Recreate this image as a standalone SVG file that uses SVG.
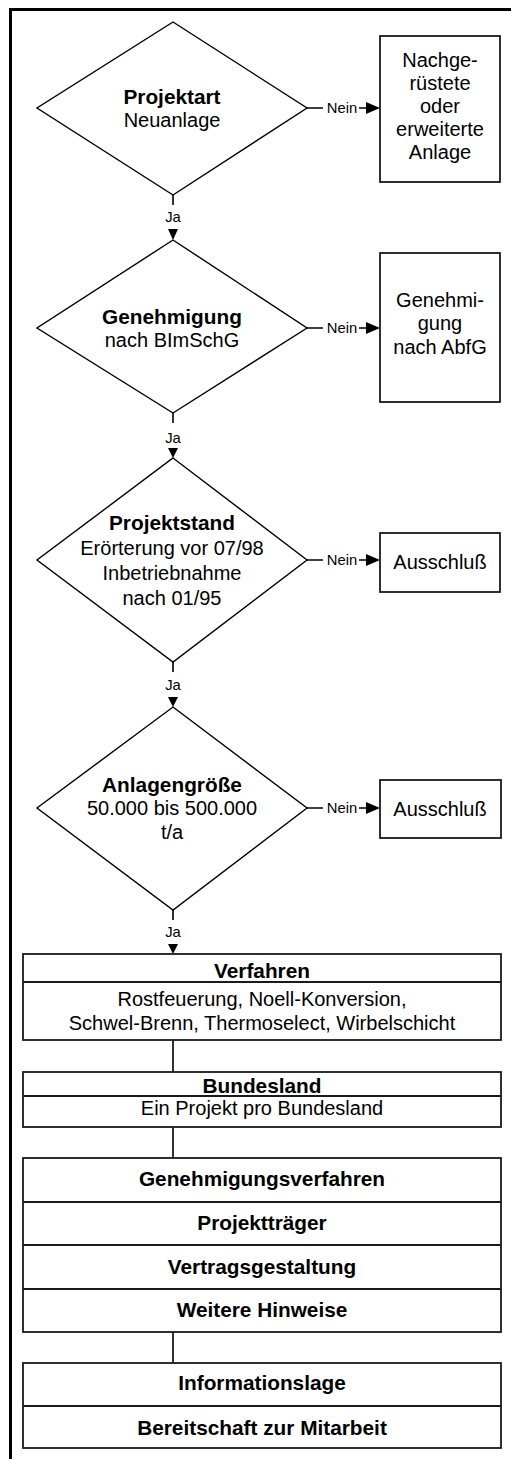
<svg xmlns="http://www.w3.org/2000/svg" width="511" height="1459" viewBox="0 0 511 1459">
  <style>
    .shape { fill: #ffffff; stroke: #000000; stroke-width: 1.4; }
    .box { fill: #ffffff; stroke: #1a1a1a; stroke-width: 1.8; }
    .div { stroke: #1a1a1a; stroke-width: 1.8; }
    .line { stroke: #000000; stroke-width: 1.6; fill: none; }
    .head { fill: #000000; }
    text { font-family: "Liberation Sans", Arial, sans-serif; fill: #000000; text-anchor: middle; }
    .t { font-size: 20px; }
    .b { font-size: 20.8px; font-weight: bold; }
    .lbl { font-size: 14.8px; }
  </style>

  <!-- frame: top and left rules -->
  <path d="M9 9.5 H511 M10.5 8 V1459" stroke="#000" stroke-width="3" fill="none"/>

  <!-- connectors -->
  <g id="connectors">
    <!-- Nein branches -->
    <path class="line" d="M307 108 H323 M359 108 H367"/>
    <polygon class="head" points="366,102 380,108 366,114"/>
    <text class="lbl" x="342" y="113">Nein</text>

    <path class="line" d="M307 328 H323 M359 328 H367"/>
    <polygon class="head" points="366,322 380,328 366,334"/>
    <text class="lbl" x="342" y="333">Nein</text>

    <path class="line" d="M307 560 H323 M359 560 H367"/>
    <polygon class="head" points="366,554 380,560 366,566"/>
    <text class="lbl" x="342" y="565">Nein</text>

    <path class="line" d="M307 808 H323 M359 808 H367"/>
    <polygon class="head" points="366,802 380,808 366,814"/>
    <text class="lbl" x="342" y="813">Nein</text>

    <!-- Ja branches -->
    <path class="line" d="M173 195 V205"/>
    <text class="lbl" x="173" y="222">Ja</text>
    <polygon class="head" points="168,229 178,229 173,240"/>

    <path class="line" d="M173 413 V423"/>
    <text class="lbl" x="173" y="443">Ja</text>
    <polygon class="head" points="168,448 178,448 173,458"/>

    <path class="line" d="M173 662 V672"/>
    <text class="lbl" x="173" y="690">Ja</text>
    <polygon class="head" points="168,697 178,697 173,707"/>

    <path class="line" d="M173 910 V920"/>
    <text class="lbl" x="173" y="937">Ja</text>
    <polygon class="head" points="168,944 178,944 173,954"/>

    <!-- plain links between the lower boxes -->
    <path class="line" d="M173 1040 V1072 M173 1127 V1158 M173 1332 V1363"/>
  </g>

  <!-- decision: Projektart -->
  <g id="d-projektart">
    <polygon class="shape" points="173,22 307,108 173,195 37,108"/>
    <text class="b" x="172" y="104">Projektart</text>
    <text class="t" x="172" y="127">Neuanlage</text>
  </g>
  <g id="n-nachgeruestet">
    <rect class="box" x="380" y="36" width="120" height="146"/>
    <text class="t" x="440" y="67">Nachge-</text>
    <text class="t" x="440" y="90">rüstete</text>
    <text class="t" x="440" y="113">oder</text>
    <text class="t" x="440" y="136">erweiterte</text>
    <text class="t" x="440" y="159">Anlage</text>
  </g>

  <!-- decision: Genehmigung -->
  <g id="d-genehmigung">
    <polygon class="shape" points="173,240 307,328 173,413 37,328"/>
    <text class="b" x="172" y="324">Genehmigung</text>
    <text class="t" x="172" y="347">nach BImSchG</text>
  </g>
  <g id="n-abfg">
    <rect class="box" x="380" y="253" width="120" height="149"/>
    <text class="t" x="440" y="307">Genehmi-</text>
    <text class="t" x="440" y="330">gung</text>
    <text class="t" x="440" y="354">nach AbfG</text>
  </g>

  <!-- decision: Projektstand -->
  <g id="d-projektstand">
    <polygon class="shape" points="173,458 307,560 173,662 37,560"/>
    <text class="b" x="172" y="530">Projektstand</text>
    <text class="t" x="172" y="555">Erörterung vor 07/98</text>
    <text class="t" x="172" y="580">Inbetriebnahme</text>
    <text class="t" x="172" y="605">nach 01/95</text>
  </g>
  <g id="n-ausschluss-1">
    <rect class="box" x="380" y="533" width="120" height="59"/>
    <text class="t" x="440" y="569">Ausschluß</text>
  </g>

  <!-- decision: Anlagengroesse -->
  <g id="d-anlagengroesse">
    <polygon class="shape" points="173,707 307,808 173,910 37,808"/>
    <text class="b" x="172" y="792">Anlagengröße</text>
    <text class="t" x="172" y="815">50.000 bis 500.000</text>
    <text class="t" x="172" y="839">t/a</text>
  </g>
  <g id="n-ausschluss-2">
    <rect class="box" x="380" y="780" width="121" height="58"/>
    <text class="t" x="440" y="816">Ausschluß</text>
  </g>

  <!-- Verfahren -->
  <g id="n-verfahren">
    <rect class="box" x="23" y="954" width="478" height="86"/>
    <line class="div" x1="23" y1="982" x2="501" y2="982"/>
    <text class="b" x="262" y="978">Verfahren</text>
    <text class="t" x="262" y="1006">Rostfeuerung, Noell-Konversion,</text>
    <text class="t" x="262" y="1030">Schwel-Brenn, Thermoselect, Wirbelschicht</text>
  </g>

  <!-- Bundesland -->
  <g id="n-bundesland">
    <rect class="box" x="23" y="1072" width="478" height="55"/>
    <line class="div" x1="23" y1="1096" x2="501" y2="1096"/>
    <text class="b" x="262" y="1093">Bundesland</text>
    <text class="t" x="262" y="1115">Ein Projekt pro Bundesland</text>
  </g>

  <!-- criteria block -->
  <g id="n-kriterien">
    <rect class="box" x="23" y="1158" width="478" height="174"/>
    <line class="div" x1="23" y1="1202" x2="501" y2="1202"/>
    <line class="div" x1="23" y1="1245" x2="501" y2="1245"/>
    <line class="div" x1="23" y1="1289" x2="501" y2="1289"/>
    <text class="b" x="262" y="1186">Genehmigungsverfahren</text>
    <text class="b" x="262" y="1230">Projektträger</text>
    <text class="b" x="262" y="1274">Vertragsgestaltung</text>
    <text class="b" x="262" y="1317">Weitere Hinweise</text>
  </g>

  <!-- final block -->
  <g id="n-information">
    <rect class="box" x="23" y="1363" width="478" height="85"/>
    <line class="div" x1="23" y1="1406" x2="501" y2="1406"/>
    <text class="b" x="262" y="1390">Informationslage</text>
    <text class="b" x="262" y="1435">Bereitschaft zur Mitarbeit</text>
  </g>
</svg>
